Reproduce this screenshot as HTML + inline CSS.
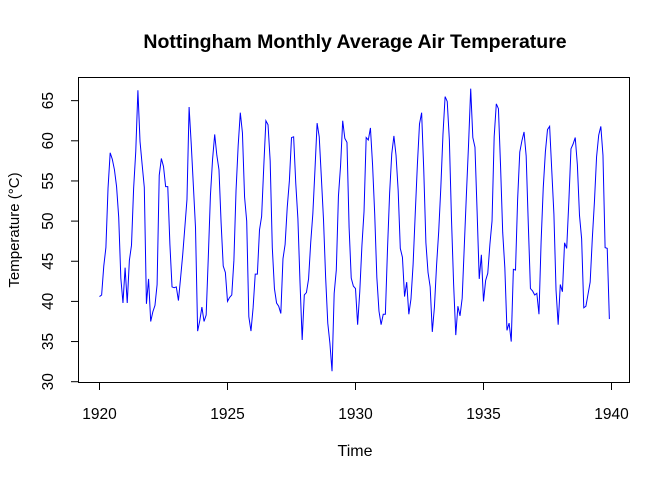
<!DOCTYPE html>
<html><head><meta charset="utf-8"><style>
body{margin:0;background:#fff;}
svg{display:block;font-family:"Liberation Sans",Arial,sans-serif;}
</style></head><body>
<svg id="chart" width="672" height="480">
<text x="355" y="48" text-anchor="middle" font-size="19.5" font-weight="bold">Nottingham Monthly Average Air Temperature</text>
<text x="355" y="456" text-anchor="middle" font-size="16">Time</text>
<text transform="translate(19,230) rotate(-90)" text-anchor="middle" font-size="15">Temperature (°C)</text>
<rect x="78.5" y="77.5" width="551" height="305" fill="none" stroke="#000"/>
<g id="xaxis"></g>
<g id="yaxis"></g>
<path id="series" fill="none" stroke="#0000ff" stroke-width="1"/>
</svg>
<script>
const startYear = 1920;
const temps = [
40.6,40.8,44.4,46.7,54.1,58.5,57.7,56.4,54.3,50.5,42.9,39.8,
44.2,39.8,45.1,47.0,54.1,58.7,66.3,59.9,57.0,54.2,39.7,42.8,
37.5,38.7,39.5,42.1,55.7,57.8,56.8,54.3,54.3,47.1,41.8,41.7,
41.8,40.1,42.9,45.8,49.2,52.7,64.2,59.6,54.4,49.2,36.3,37.6,
39.3,37.5,38.3,45.5,53.2,57.7,60.8,58.2,56.4,49.8,44.4,43.6,
40.0,40.5,40.8,45.1,53.8,59.4,63.5,61.0,53.0,50.0,38.1,36.3,
39.2,43.4,43.4,48.9,50.6,56.8,62.5,62.0,57.5,46.7,41.6,39.8,
39.4,38.5,45.3,47.1,51.7,55.0,60.4,60.5,54.7,50.3,42.3,35.2,
40.8,41.1,42.8,47.3,50.9,56.4,62.2,60.5,55.4,50.2,43.0,37.3,
34.8,31.3,41.0,43.9,53.1,56.9,62.5,60.3,59.8,49.2,42.9,41.9,
41.6,37.1,41.2,46.9,51.2,60.4,60.1,61.6,57.0,50.9,43.0,38.8,
37.1,38.4,38.4,46.5,53.5,58.4,60.6,58.2,53.8,46.6,45.5,40.6,
42.4,38.4,40.3,44.6,50.9,57.0,62.1,63.5,56.3,47.3,43.6,41.8,
36.2,39.3,44.5,48.7,54.2,60.8,65.5,64.9,60.1,50.2,42.1,35.8,
39.4,38.2,40.4,46.9,53.4,59.6,66.5,60.4,59.2,51.2,42.8,45.8,
40.0,42.6,43.5,47.1,50.0,60.5,64.6,64.0,56.8,48.6,44.2,36.4,
37.3,35.0,44.0,43.9,52.7,58.6,60.0,61.1,58.1,49.6,41.6,41.3,
40.8,41.0,38.4,47.4,54.1,58.6,61.4,61.8,56.3,50.9,41.4,37.1,
42.1,41.2,47.3,46.6,52.4,59.0,59.6,60.4,57.0,50.7,47.8,39.2,
39.4,40.9,42.4,47.8,52.4,58.0,60.7,61.8,58.2,46.7,46.6,37.8];
const xTicks = [1920,1925,1930,1935,1940];
const yTicks = [30,35,40,45,50,55,60,65];

const NS = "http://www.w3.org/2000/svg";
function xs(t){ return 99.5 + (t-1920)*25.6; }
function ys(v){ return 381.7 - (v-30)*8.03; }

const xg = document.getElementById('xaxis');
const yg = document.getElementById('yaxis');
function line(g,x1,y1,x2,y2){
  const l=document.createElementNS(NS,'line');
  l.setAttribute('x1',x1);l.setAttribute('y1',y1);l.setAttribute('x2',x2);l.setAttribute('y2',y2);
  l.setAttribute('stroke','#000');
  g.appendChild(l); return l;
}
line(xg, xs(xTicks[0]), 382.5, xs(xTicks[xTicks.length-1]), 382.5);
xTicks.forEach(t=>{
  const tk=line(xg, xs(t), 382.5, xs(t), 390);
  
  
  const tx=document.createElementNS(NS,'text');
  tx.setAttribute('x',xs(t));tx.setAttribute('y',419);
  tx.setAttribute('text-anchor','middle');tx.setAttribute('font-size','15.5');
  tx.textContent=t;
  
  
  xg.appendChild(tx);
});
line(yg, 78.5, ys(yTicks[0]), 78.5, ys(yTicks[yTicks.length-1]));
yTicks.forEach(v=>{
  const tk=line(yg, 71, ys(v), 78.5, ys(v));
  
  
  const tx=document.createElementNS(NS,'text');
  tx.setAttribute('transform','translate(53,'+ys(v)+') rotate(-90)');
  tx.setAttribute('text-anchor','middle');tx.setAttribute('font-size','15.5');
  tx.textContent=v;
  
  
  yg.appendChild(tx);
});
let d='';
temps.forEach((v,i)=>{ d+=(i?'L':'M')+xs(startYear+i/12).toFixed(2)+','+ys(v).toFixed(2); });
document.getElementById('series').setAttribute('d',d);
</script>
</body></html>
